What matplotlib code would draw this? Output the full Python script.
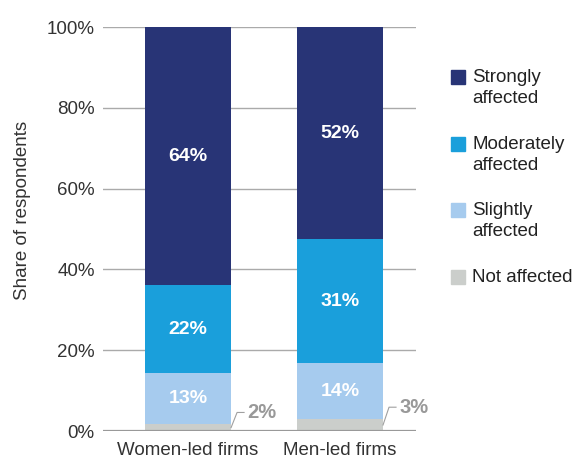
import matplotlib.pyplot as plt
from matplotlib.patches import Rectangle

plt.rcParams["font.family"] = ["Liberation Sans", "DejaVu Sans"]

firms = ["Women-led firms", "Men-led firms"]
levels = ["Not affected", "Slightly\naffected", "Moderately\naffected", "Strongly\naffected"]
not_affected = [1.7, 3.0]
slightly = [12.7, 13.8]
moderately = [21.7, 30.7]
strongly = [63.9, 52.5]
shown = {
    "slightly": ["13%", "14%"],
    "moderately": ["22%", "31%"],
    "strongly": ["64%", "52%"],
    "not": ["2%", "3%"],
}
colors = ["#cbcecb", "#a6cbee", "#1a9fdb", "#283476"]

fig = plt.figure(figsize=(5.73, 4.62), dpi=100)
ax = fig.add_axes([0.18, 0.067, 0.546, 0.8745])

x = [0, 1]
width = 0.566
series = [not_affected, slightly, moderately, strongly]
bottoms = [0, 0]
for vals, col in zip(series, colors):
    ax.bar(x, vals, width, bottom=bottoms, color=col, zorder=3)
    bottoms = [b + v for b, v in zip(bottoms, vals)]

# white labels in the segments
keys = [None, "slightly", "moderately", "strongly"]
base = [0, 0]
for vals, key in zip(series, keys):
    for i in range(2):
        if key:
            ax.text(x[i], base[i] + vals[i] / 2, shown[key][i], ha="center", va="center",
                    color="white", fontsize=14, fontweight="bold", zorder=4)
    base = [b + v for b, v in zip(base, vals)]

# leader lines for "not affected"
px = 1 / 152
for i in range(2):
    x0 = x[i] + width / 2
    y0 = not_affected[i] / 2
    y1 = not_affected[i] + 2.9
    ax.plot([x0, x0 + 6 * px, x0 + 13 * px], [y0, y1, y1], color="#a0a0a0", lw=0.8,
            zorder=4, clip_on=False)
    ax.text(x0 + 16 * px, y1, shown["not"][i], ha="left", va="center", color="#999999",
            fontsize=14.5, fontweight="bold")

ax.set_xlim(-0.559, 1.5)
ax.set_ylim(0, 100)
ax.set_yticks(range(0, 101, 20))
ax.set_yticklabels([f"{v}%" for v in range(0, 101, 20)])
ax.set_xticks(x)
ax.set_xticklabels(firms)
ax.tick_params(axis="both", length=0, labelsize=13.5, colors="#333333")
ax.tick_params(axis="y", pad=6)
ax.tick_params(axis="x", pad=8)
for s in ax.spines.values():
    s.set_visible(False)
ax.yaxis.grid(True, color="#aaaaaa", lw=1, zorder=0)
ax.axhline(0, color="#999999", lw=1.6, zorder=5)
ax.set_ylabel("Share of respondents", fontsize=13.5, color="#333333")
ax.yaxis.set_label_coords(-0.23, 0.547)

# legend drawn by hand
leg_y = [277, 210, 144, 77]
for lab, col, yy in zip(levels, colors, leg_y):
    fy = 1 - yy / 462
    fig.patches.append(Rectangle((451 / 573, fy - 7 / 462), 14 / 573, 14 / 462,
                                 color=col, transform=fig.transFigure))
    fig.text(472 / 573, fy + 8 / 462, lab, ha="left", va="top", fontsize=13.5,
             color="#222222", linespacing=1.3)

plt.savefig("out.png", dpi=100)
